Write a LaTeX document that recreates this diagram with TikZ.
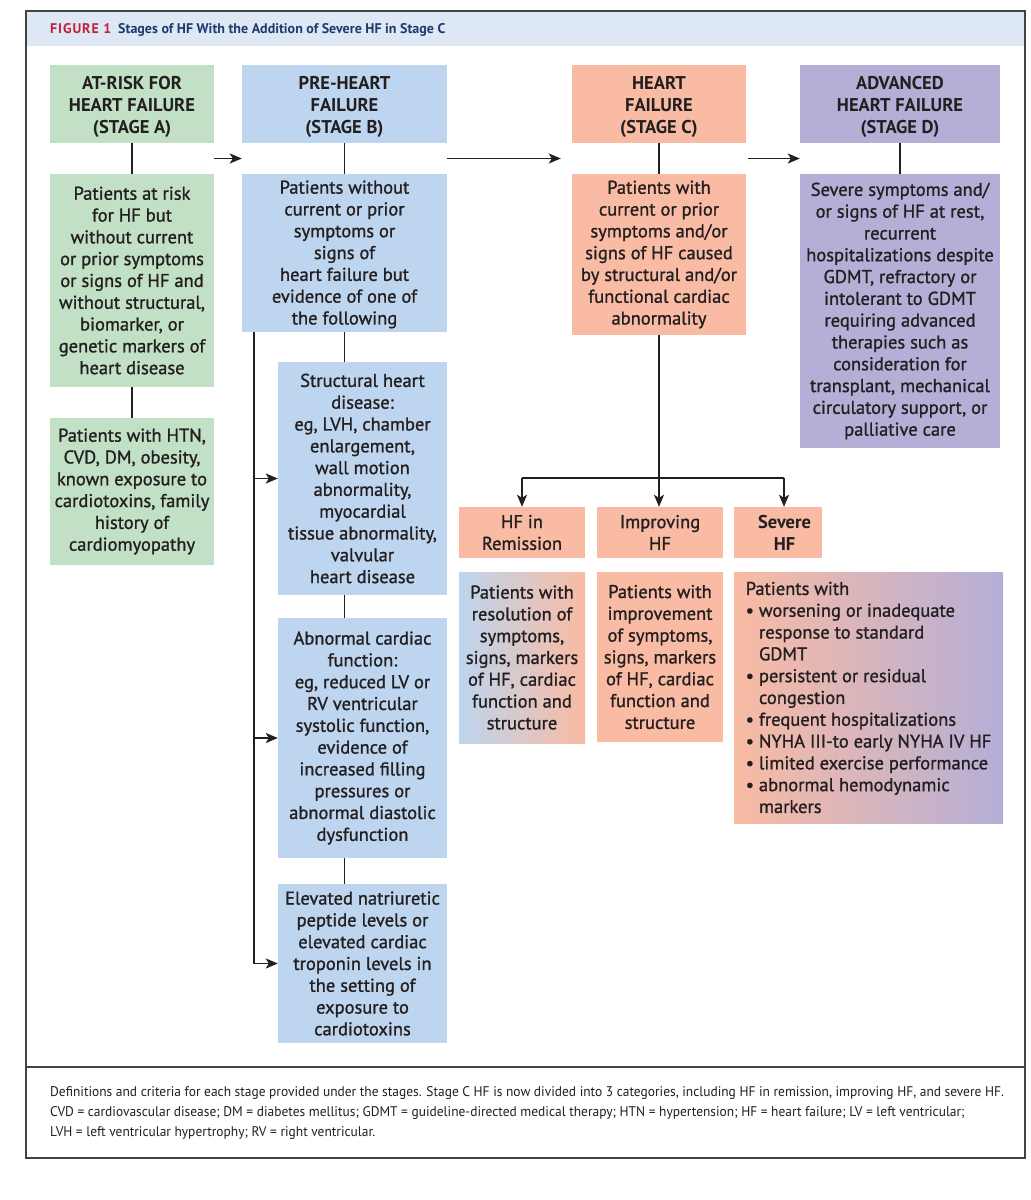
\documentclass[tikz,border=0pt]{standalone}
\usepackage{fontspec}
\setmainfont{PT Sans}[UprightFeatures={FakeBold=1.1}]
\newfontfamily\capfont[FakeStretch=0.96]{PT Sans}
\usetikzlibrary{arrows.meta,calc}
\definecolor{cA}{HTML}{C2E0C5}
\definecolor{cB}{HTML}{BDD5EE}
\definecolor{cC}{HTML}{F9BBA3}
\definecolor{cD}{HTML}{B4AFD7}
\definecolor{band}{HTML}{DEE8F4}
\definecolor{figred}{HTML}{C0223F}
\definecolor{figblue}{HTML}{1F3A6E}
\definecolor{ink}{HTML}{231F20}
\newcommand{\hstrut}{\rule{0pt}{18.5pt}}
\begin{document}
\begin{tikzpicture}[x=1pt,y=-1pt,
  box/.style={inner sep=0pt, align=center, text=ink, font=\fontsize{18.5}{21.8}\selectfont},
  hdr/.style={box, font=\bfseries\fontsize{18.5}{22}\selectfont, minimum height=78pt},
  sub/.style={box, minimum height=51pt, fill=cC},
  conn/.style={draw=ink, line width=1.8pt},
  arr/.style={conn, -{Stealth[length=12pt,width=10pt,inset=3pt]}},
  capline/.style={anchor=base west, inner sep=0pt, text=ink, font=\capfont\fontsize{14}{20}\selectfont}
]
\useasboundingbox (0,0) rectangle (1031,1200);
\fill[white] (0,0) rectangle (1031,1200);
% frame and title band
\fill[band] (26,11) rectangle (1025,46);
\draw[draw=ink!85, line width=1.5pt] (26,11) rectangle (1025,1158);
\draw[draw=ink!85, line width=1.5pt] (26,1067) -- (1025,1067);
\node[anchor=west, inner sep=0pt, font=\bfseries\fontsize{14}{16}\selectfont] (title) at (50,30)
  {\textcolor{figred}{F\kern0.9pt I\kern0.9pt G\kern0.9pt U\kern0.9pt R\kern0.9pt E\kern0.9pt\ 1}\hspace{7pt}\textcolor{figblue}{Stages of HF With the Addition of Severe HF in Stage C}};

% Stage A
\node[hdr, fill=cA, minimum width=164pt] (Ah) at (132,104) {\hstrut AT-RISK FOR\\HEART FAILURE\\(STAGE A)};
\node[box, fill=cA, minimum width=164pt, minimum height=213pt] (Ad) at (132,280.5)
  {Patients at risk\\for HF but\\without current\\or prior symptoms\\or signs of HF and\\without structural,\\biomarker, or\\genetic markers of\\heart disease};
\node[box, fill=cA, minimum width=164pt, minimum height=147pt] (Aa) at (132,491.5)
  {Patients with HTN,\\CVD, DM, obesity,\\known exposure to\\cardiotoxins, family\\history of\\cardiomyopathy};

% Stage B
\node[hdr, fill=cB, minimum width=205pt] (Bh) at (344.5,104) {\hstrut PRE-HEART\\FAILURE\\(STAGE B)};
\node[box, fill=cB, minimum width=205pt, minimum height=158pt] (Bd) at (344.5,253)
  {\rule{0pt}{16pt}Patients without\\current or prior\\symptoms or\\signs of\\heart failure but\\evidence of one of\\the following};
\node[box, fill=cB, minimum width=169pt, minimum height=233pt] (B1) at (362.5,478.5)
  {Structural heart\\disease:\\eg, LVH, chamber\\enlargement,\\wall motion\\abnormality,\\myocardial\\tissue abnormality,\\valvular\\heart disease};
\node[box, fill=cB, minimum width=169pt, minimum height=240pt] (B2) at (362.5,738)
  {Abnormal cardiac\\function:\\eg, reduced LV or\\RV ventricular\\systolic function,\\evidence of\\increased filling\\pressures or\\abnormal diastolic\\dysfunction};
\node[box, fill=cB, minimum width=169pt, minimum height=159pt] (B3) at (362.5,963.5)
  {Elevated natriuretic\\peptide levels or\\elevated cardiac\\troponin levels in\\the setting of\\exposure to\\cardiotoxins};

% Stage C
\node[hdr, fill=cC, minimum width=174pt] (Ch) at (659,104) {\hstrut HEART\\FAILURE\\(STAGE C)};
\node[box, fill=cC, minimum width=174pt, minimum height=161pt] (Cd) at (659,254.5)
  {Patients with\\current or prior\\symptoms and/or\\signs of HF caused\\by structural and/or\\functional cardiac\\abnormality};

% Stage D
\node[hdr, fill=cD, minimum width=200pt] (Dh) at (900,104) {\hstrut ADVANCED\\HEART FAILURE\\(STAGE D)};
\node[box, fill=cD, minimum width=200pt, minimum height=274pt] (Dd) at (900,311)
  {Severe symptoms and/\\or signs of HF at rest,\\recurrent\\hospitalizations despite\\GDMT, refractory or\\intolerant to GDMT\\requiring advanced\\therapies such as\\consideration for\\transplant, mechanical\\circulatory support, or\\palliative care};

% Stage C sub-categories
\node[sub, minimum width=126pt] (rem) at (522,532.5) {HF in\\Remission};
\node[sub, minimum width=126pt] (imp) at (660,532.5) {Improving\\HF};
\node[sub, minimum width=88pt, font=\bfseries\fontsize{18.5}{21.8}\selectfont] (sev) at (778,532.5)
  {\hspace*{13pt}Severe\\\hspace*{13pt}HF};
\node[box, left color=cB, right color=cC, minimum width=126pt, minimum height=171pt] (remd) at (522,657.5)
  {Patients with\\resolution of\\symptoms,\\signs, markers\\of HF, cardiac\\function and\\structure};
\node[box, fill=cC, minimum width=126pt, minimum height=170pt] (impd) at (660,657)
  {Patients with\\improvement\\of symptoms,\\signs, markers\\of HF, cardiac\\function and\\structure};
\node[box, align=left, left color=cC, right color=cD, minimum width=269pt, minimum height=251pt] (sevd) at (868.5,697.5)
  {Patients with\\
   \textbullet\ worsening or inadequate\\
   \phantom{\textbullet\ }response to standard\\
   \phantom{\textbullet\ }GDMT\\
   \textbullet\ persistent or residual\\
   \phantom{\textbullet\ }congestion\\
   \textbullet\ frequent hospitalizations\\
   \textbullet\ NYHA III-to early NYHA IV HF\\
   \textbullet\ limited exercise performance\\
   \textbullet\ abnormal hemodynamic\\
   \phantom{\textbullet\ }markers};

% vertical connectors
\draw[conn] (Ah) -- (Ad);
\draw[conn] (Ad) -- (Aa);
\draw[conn] (Bh) -- (Bd);
\draw[conn] (Bd.south) -- (Bd.south |- B1.north);
\draw[conn] (B1.south -| Bd.south) -- (B2.north -| Bd.south);
\draw[conn] (B2.south -| Bd.south) -- (B3.north -| Bd.south);
\draw[conn] (Ch) -- (Cd);
\draw[conn] (Dh) -- (Dd);

% stage-to-stage arrows
\coordinate (ab) at ($(Ah.south east)!.5!(Ad.north east)$);
\coordinate (ba) at ($(Bh.south west)!.5!(Bd.north west)$);
\coordinate (bc) at ($(Bh.south east)!.5!(Bd.north east)$);
\coordinate (cb) at ($(Ch.south west)!.5!(Cd.north west)$);
\coordinate (cd) at ($(Ch.south east)!.5!(Cd.north east)$);
\coordinate (dc) at ($(Dh.south west)!.5!(Dd.north west)$);
\draw[arr] (ab) -- (ba);
\draw[arr, shorten >=11pt] (bc) -- (cb);
\draw[arr, shorten <=2pt] (cd) -- (dc);

% stage B bracket
\coordinate (bt) at (254,332);
\draw[arr] (bt) |- (B3.west);
\draw[arr] (bt |- B1.west) -- (B1.west);
\draw[arr] (bt |- B2.west) -- (B2.west);

% stage C branches
\coordinate (cj) at (659,478);
\coordinate (sj) at (784,478);
\draw[conn] (Cd.south) -- (cj);
\draw[conn] (rem.north |- cj) -- (sj);
\draw[arr] (rem.north |- cj) -- (rem.north);
\draw[arr] (cj) -- (cj |- imp.north);
\draw[arr] (sj) -- (sj |- sev.north);

% caption
\node[capline] (cap1) at (50,1096) {Definitions and criteria for each stage provided under the stages. Stage C HF is now divided into 3 categories, including HF in remission, improving HF, and severe HF.};
\node[capline] (cap2) at (50,1116) {CVD = cardiovascular disease; DM = diabetes mellitus; GDMT = guideline-directed medical therapy; HTN = hypertension; HF = heart failure; LV = left ventricular;};
\node[capline] (cap3) at (50,1136) {LVH = left ventricular hypertrophy; RV = right ventricular.};
\end{tikzpicture}
\end{document}
